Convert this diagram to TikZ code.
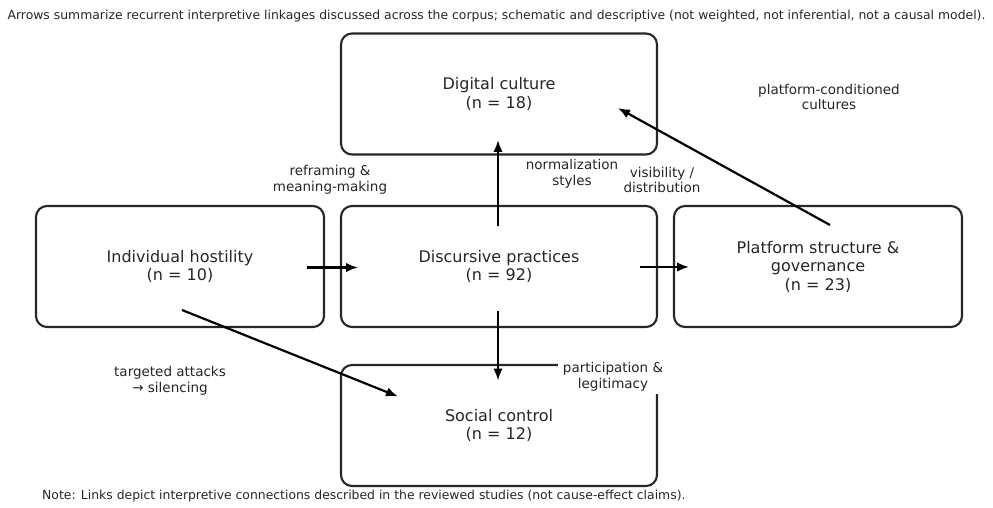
\documentclass[tikz,border=0pt]{standalone}
\usepackage{fontspec}
\setmainfont{DejaVu Sans}
\usetikzlibrary{arrows.meta,calc}
\begin{document}
\begin{tikzpicture}[x=1pt,y=-1pt,
  box/.style={draw=black!85, line width=2.1pt, rounded corners=11pt, align=center,
    font=\fontsize{16}{18.5}\selectfont, inner sep=0pt, text=black!85},
  wide/.style={minimum width=316pt, minimum height=121pt},
  narrow/.style={minimum width=288pt, minimum height=121pt},
  lbl/.style={align=center, font=\fontsize{13.5}{15.5}\selectfont, fill=white,
    inner xsep=4pt, inner ysep=3pt, text=black!85},
  arr/.style={line width=2.2pt, -{Latex[length=12pt,width=9.5pt]}},
  captext/.style={font=\fontsize{12.4}{14}\selectfont, inner sep=0pt, text=black!85}
]
\useasboundingbox (0,0) rectangle (993,508);
% boxes
\node[box, wide]   (dig)  at (499,94)    {Digital culture\\(n = 18)};
\node[box, narrow] (ind)  at (180,266.5) {Individual hostility\\(n = 10)};
\node[box, wide]   (disc) at (499,266.5) {Discursive practices\\(n = 92)};
\node[box, narrow] (plat) at (818,266.5) {Platform structure \&\\governance\\(n = 23)};
\node[box, wide]   (soc)  at (499,425.5) {Social control\\(n = 12)};
% labels
\node[lbl] (l1) at (330,180) {reframing \&\\meaning-making};
\node[lbl] (l2) at (572,174) {normalization\\styles};
\node[lbl] (l3) at (662,180) {visibility /\\distribution};
\node[lbl] (l4) at (829,97)  {platform-conditioned\\cultures};
\node[lbl] (l5) at (170,381) {targeted attacks\\→ silencing};
\node[lbl, inner xsep=5pt] (l6) at (613,377) {participation \&\\legitimacy};
% arrow endpoints
\coordinate (ind-e)   at ($(ind.center)+(127,1)$);
\coordinate (disc-w)  at ($(disc.center)+(-141,1)$);
\coordinate (disc-e)  at ($(disc.center)+(141,0.5)$);
\coordinate (plat-w)  at ($(plat.center)+(-129,0.5)$);
\coordinate (disc-n)  at ($(disc.center)+(-1,-41)$);
\coordinate (dig-s)   at ($(dig.center)+(-1,46)$);
\coordinate (disc-s)  at ($(disc.center)+(-1,44)$);
\coordinate (soc-n)   at ($(soc.center)+(-1,-45)$);
\coordinate (ind-s)   at ($(ind.center)+(2,43.5)$);
\coordinate (soc-w)   at ($(soc.center)+(-101,-29)$);
\coordinate (plat-n)  at ($(plat.center)+(12,-41.5)$);
\coordinate (dig-e)   at ($(dig.center)+(119,14)$);
% arrows
\draw[arr] (ind-e)  -- (disc-w);
\draw[arr] (disc-e) -- (plat-w);
\draw[arr] (disc-n) -- (dig-s);
\draw[arr] (disc-s) -- (soc-n);
\draw[arr] (ind-s)  -- (soc-w);
\draw[arr] (plat-n) -- (dig-e);
% captions
\node[captext] (top) at (496.5,16) {Arrows summarize recurrent interpretive linkages discussed across the corpus; schematic and descriptive (not weighted, not inferential, not a causal model).};
\node[captext, anchor=west] (note) at (42,496) {Note: Links depict interpretive connections described in the reviewed studies (not cause-effect claims).};
\end{tikzpicture}
\end{document}
